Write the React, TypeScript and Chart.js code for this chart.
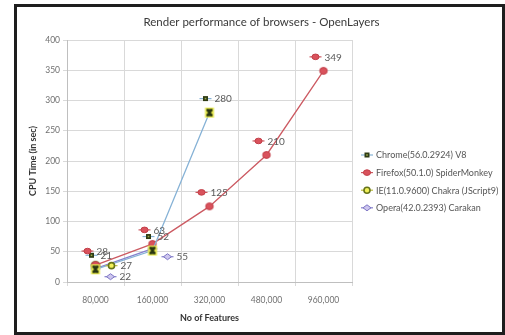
import React, { useEffect, useRef } from 'react';
import { Chart, registerables } from 'chart.js';

Chart.register(...registerables);

// Number of rendered features (x categories)
const featureCounts = ['80,000', '160,000', '320,000', '480,000', '960,000'];

// Browser / JS engine names
const browserNames = [
  'Chrome(56.0.2924) V8',
  'Firefox(50.1.0) SpiderMonkey',
  'IE(11.0.9600) Chakra (JScript9)',
  'Opera(42.0.2393) Carakan',
];

// CPU time in seconds per browser
const chromeSeconds = [21, 52, 280];
const firefoxSeconds = [28, 63, 125, 210, 349];
const ieSeconds = [27];
const operaSeconds = [22, 55];

// Value axis range
const yMin = 0;
const yMax = 400;
const yStep = 50;

const FONT = 'Lato, "Open Sans", "DejaVu Sans", sans-serif';

type MarkerKind = 'chrome' | 'firefox' | 'ie' | 'opera';
const kinds: MarkerKind[] = ['chrome', 'firefox', 'ie', 'opera'];

const lineColors: Record<MarkerKind, string> = {
  chrome: '#86b2d6',
  firefox: '#cc5a62',
  ie: '#b9bb3e',
  opera: '#8580cc',
};

// pixel shift of each series' value label (key + number) from its point
const labelShift: Record<MarkerKind, { dx: number; dy: number }> = {
  chrome: { dx: -4, dy: -14 },
  firefox: { dx: -8, dy: -14 },
  ie: { dx: 16, dy: 0 },
  opera: { dx: 15, dy: 8 },
};

function paintMarker(ctx: CanvasRenderingContext2D, kind: MarkerKind, cx: number, cy: number, small: boolean) {
  ctx.save();
  if (kind === 'chrome') {
    if (small) {
      ctx.fillStyle = '#2e3b14';
      ctx.fillRect(cx - 2.5, cy - 2.5, 5, 5);
      ctx.fillStyle = '#9aa64a';
      ctx.fillRect(cx - 0.8, cy - 0.8, 1.6, 1.6);
    } else {
      ctx.fillStyle = '#e6e84e';
      ctx.fillRect(cx - 4.5, cy - 5, 9, 10);
      ctx.fillStyle = '#263310';
      ctx.fillRect(cx - 3, cy - 3.6, 6, 1.6);
      ctx.fillRect(cx - 3, cy + 2, 6, 1.6);
      ctx.strokeStyle = '#263310';
      ctx.lineWidth = 2;
      ctx.beginPath();
      ctx.moveTo(cx - 2.6, cy - 3);
      ctx.lineTo(cx + 2.6, cy + 3);
      ctx.moveTo(cx + 2.6, cy - 3);
      ctx.lineTo(cx - 2.6, cy + 3);
      ctx.stroke();
    }
  } else if (kind === 'firefox') {
    ctx.fillStyle = '#d9525c';
    ctx.strokeStyle = '#c23e48';
    ctx.lineWidth = 1;
    ctx.beginPath();
    ctx.ellipse(cx, cy, small ? 3.6 : 3.8, small ? 2.8 : 3.4, 0, 0, Math.PI * 2);
    ctx.fill();
    ctx.stroke();
  } else if (kind === 'ie') {
    ctx.fillStyle = '#f2f15a';
    ctx.strokeStyle = '#66741a';
    ctx.lineWidth = small ? 1.6 : 2;
    ctx.beginPath();
    ctx.arc(cx, cy, small ? 3 : 3.8, 0, Math.PI * 2);
    ctx.fill();
    ctx.stroke();
  } else {
    const w = small ? 4 : 4.5;
    const h = small ? 3 : 3.6;
    ctx.fillStyle = '#cdc6ee';
    ctx.strokeStyle = '#7d75c4';
    ctx.lineWidth = 1;
    ctx.beginPath();
    ctx.moveTo(cx - w, cy);
    ctx.lineTo(cx, cy - h);
    ctx.lineTo(cx + w, cy);
    ctx.lineTo(cx, cy + h);
    ctx.closePath();
    ctx.fill();
    ctx.stroke();
  }
  ctx.restore();
}

function markerImage(kind: MarkerKind): HTMLCanvasElement {
  const c = document.createElement('canvas');
  c.width = 12;
  c.height = 12;
  const g = c.getContext('2d');
  if (g) paintMarker(g, kind, 6, 6, false);
  return c;
}

// legend-style key: short line with a small marker on it
function drawKey(ctx: CanvasRenderingContext2D, kind: MarkerKind, x: number, y: number) {
  ctx.save();
  ctx.strokeStyle = lineColors[kind];
  ctx.lineWidth = 1.2;
  ctx.beginPath();
  ctx.moveTo(x - 6, y);
  ctx.lineTo(x + 6, y);
  ctx.stroke();
  ctx.restore();
  paintMarker(ctx, kind, x, y, true);
}

const valueLabels = {
  id: 'valueLabels',
  afterDatasetsDraw(chart: Chart) {
    const ctx = chart.ctx;
    ctx.save();
    ctx.font = `10px ${FONT}`;
    ctx.textAlign = 'left';
    ctx.textBaseline = 'middle';
    chart.data.datasets.forEach((ds, i) => {
      const kind = kinds[i];
      const meta = chart.getDatasetMeta(i);
      meta.data.forEach((pt, j) => {
        const v = ds.data[j] as number;
        const x = pt.x + labelShift[kind].dx;
        const y = pt.y + labelShift[kind].dy;
        drawKey(ctx, kind, x, y);
        ctx.fillStyle = '#5a5a5a';
        ctx.fillText(String(v), x + 9, y + 0.5);
      });
    });
    ctx.restore();
  },
};

const sideLegend = {
  id: 'sideLegend',
  afterDraw(chart: Chart) {
    const ctx = chart.ctx;
    const area = chart.chartArea;
    const x = area.right + 15;
    const top = area.top + 115;
    ctx.save();
    ctx.font = `9px ${FONT}`;
    ctx.textAlign = 'left';
    ctx.textBaseline = 'middle';
    browserNames.forEach((name, i) => {
      const y = top + i * 17.6;
      drawKey(ctx, kinds[i], x, y);
      ctx.fillStyle = '#555555';
      ctx.fillText(name, x + 9, y + 0.5);
    });
    ctx.restore();
  },
};

const chartHeading = {
  id: 'chartHeading',
  afterDraw(chart: Chart) {
    const ctx = chart.ctx;
    ctx.save();
    ctx.font = `11.5px ${FONT}`;
    ctx.fillStyle = '#3a3a3a';
    ctx.textAlign = 'center';
    ctx.textBaseline = 'middle';
    ctx.fillText('Render performance of browsers - OpenLayers', chart.width / 2 + 2, 15);
    ctx.restore();
  },
};

export default function App() {
  const ref = useRef<HTMLCanvasElement | null>(null);

  useEffect(() => {
    if (!ref.current) return;
    const series = [chromeSeconds, firefoxSeconds, ieSeconds, operaSeconds];
    const chart = new Chart(ref.current, {
      type: 'line',
      data: {
        labels: featureCounts,
        datasets: series.map((values, i) => ({
          label: browserNames[i],
          data: values,
          borderColor: lineColors[kinds[i]],
          borderWidth: 1.3,
          pointStyle: markerImage(kinds[i]),
          pointRadius: 5,
          fill: false,
          tension: 0,
        })),
      },
      options: {
        responsive: false,
        devicePixelRatio: 1,
        animation: false,
        layout: { padding: { top: 33, right: 150, left: 0, bottom: 0 } },
        plugins: {
          legend: { display: false },
          title: { display: false },
          tooltip: { enabled: false },
        },
        scales: {
          x: {
            type: 'category',
            offset: true,
            grid: { offset: true, color: '#d9d9d9', tickLength: 4, drawTicks: true },
            border: { color: '#bfbfbf' },
            ticks: { color: '#707070', font: { family: FONT, size: 8.5 }, padding: 9, maxRotation: 0 },
            title: {
              display: true,
              text: 'No of Features',
              color: '#333333',
              font: { family: FONT, size: 9, weight: 'bold' },
              padding: { top: 0, bottom: 8.5 },
            },
            afterFit: (s: any) => {
              s.height = 50;
            },
          },
          y: {
            min: yMin,
            max: yMax,
            grid: { color: '#d9d9d9', tickLength: 4 },
            border: { color: '#bfbfbf' },
            ticks: { stepSize: yStep, color: '#707070', font: { family: FONT, size: 8.5 }, padding: 3 },
            title: {
              display: true,
              text: 'CPU Time (in sec)',
              color: '#333333',
              font: { family: FONT, size: 9, weight: 'bold' },
              padding: { top: 10.5, bottom: 0 },
            },
            afterFit: (s: any) => {
              s.width = 50;
            },
          },
        },
      },
      plugins: [valueLabels, sideLegend, chartHeading],
    });
    return () => chart.destroy();
  }, []);

  return (
    <div
      style={{
        position: 'fixed',
        left: 0,
        top: 0,
        width: 505,
        height: 335,
        background: '#ffffff',
      }}
    >
      <div
        style={{
          position: 'absolute',
          left: 14,
          top: 4,
          width: 491,
          height: 331,
          boxSizing: 'border-box',
          border: '3px solid #1e1e1e',
          background: '#ffffff',
        }}
      >
        <canvas ref={ref} width={485} height={325} style={{ display: 'block' }} />
      </div>
    </div>
  );
}
